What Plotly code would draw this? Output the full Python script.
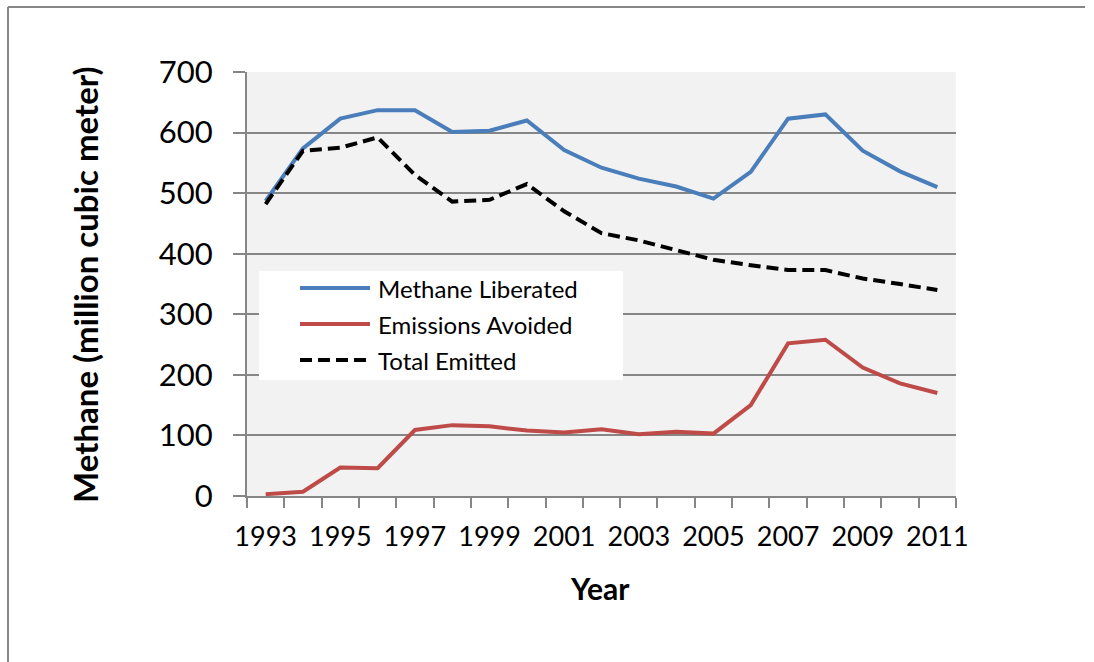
import plotly.graph_objects as go

# Coal-mine methane, 1993-2011 (million cubic meter)
years = list(range(1993, 2012))
methane_liberated = [487, 574, 623, 637, 637, 601, 603, 620, 571, 542,
                     524, 511, 491, 535, 623, 630, 570, 536, 510]
emissions_avoided = [3, 7, 47, 46, 109, 117, 115, 108, 105, 110,
                     102, 106, 103, 150, 252, 258, 212, 186, 170]
total_emitted = [482, 570, 575, 592, 530, 486, 489, 515, 470, 434,
                 422, 406, 390, 381, 373, 373, 359, 350, 340]

series_names = ["Methane Liberated", "Emissions Avoided", "Total Emitted"]
series_colors = ["#4a7ebb", "#be4b48", "#000000"]
series_dash = ["solid", "solid", "12px,6px"]
x_labels = [str(y) for y in years[::2]]

W, H = 1094, 662
L, R, T, B = 247, 956, 72, 496   # plot area edges in pixels
FONT = "Lato, 'Open Sans', sans-serif"
GRAY = "#868686"


def px(xp):
    return (xp - L) / (R - L)


def py(yp):
    return (B - yp) / (B - T)


fig = go.Figure()
for name, vals, col, dash in zip(series_names,
                                 [methane_liberated, emissions_avoided, total_emitted],
                                 series_colors, series_dash):
    fig.add_trace(go.Scatter(x=years, y=vals, name=name, mode="lines",
                             line=dict(color=col, width=4, dash=dash),
                             showlegend=False))

shapes = [
    # outer frame (top and left edges)
    dict(type="line", xref="paper", yref="paper", x0=px(8), x1=px(1085),
         y0=py(7), y1=py(7), line=dict(color=GRAY, width=2)),
    dict(type="line", xref="paper", yref="paper", x0=px(8), x1=px(8),
         y0=py(7), y1=py(H + 5), line=dict(color=GRAY, width=2)),
    # legend box
    dict(type="rect", xref="paper", yref="paper", x0=px(259), x1=px(623),
         y0=py(380), y1=py(271), fillcolor="white", line=dict(width=0), layer="above"),
]
annotations = []
row_y = [288, 324, 360]
for name, col, dash, ry in zip(series_names, series_colors, series_dash, row_y):
    shapes.append(dict(type="line", xref="paper", yref="paper", x0=px(300), x1=px(370),
                       y0=py(ry), y1=py(ry), layer="above",
                       line=dict(color=col, width=4, dash=dash)))
    annotations.append(dict(text=name, xref="paper", yref="paper", x=px(376), y=py(ry),
                            xanchor="left", yanchor="middle", showarrow=False,
                            font=dict(family=FONT, size=24, color="#000")))

annotations.append(dict(text="<b>Methane (million cubic meter)</b>", xref="paper", yref="paper",
                        x=px(85), y=py(285), xanchor="center", yanchor="middle",
                        textangle=-90, showarrow=False,
                        font=dict(family=FONT, size=33, color="#000")))
annotations.append(dict(text="<b>Year</b>", xref="paper", yref="paper",
                        x=px(600), y=py(588), xanchor="center", yanchor="middle",
                        showarrow=False, font=dict(family=FONT, size=30, color="#000")))

fig.update_layout(
    width=W, height=H,
    margin=dict(l=L, r=W - R, t=T, b=H - B, pad=0),
    paper_bgcolor="white", plot_bgcolor="#f2f2f2",
    shapes=shapes, annotations=annotations,
    font=dict(family=FONT, color="#000"),
)
fig.update_xaxes(
    range=[1992.5, 2011.5], tickmode="array", tickvals=years[::2], ticktext=x_labels,
    ticks="", showgrid=False, zeroline=False,
    showline=True, linecolor=GRAY, linewidth=2,
    tickfont=dict(family=FONT, size=27, color="#000"), ticklabelstandoff=16,
    minor=dict(ticks="outside", ticklen=10, tickwidth=2, tickcolor=GRAY,
               tick0=1992.5, dtick=1, showgrid=False),
)
fig.update_yaxes(
    range=[0, 700], dtick=100, tickmode="linear", tick0=0,
    showgrid=True, gridcolor=GRAY, gridwidth=2, zeroline=False,
    showline=True, linecolor=GRAY, linewidth=2,
    ticks="outside", ticklen=12, tickwidth=2, tickcolor=GRAY,
    tickfont=dict(family=FONT, size=31, color="#000"), ticklabelstandoff=14,
)

fig.write_html("out.html")
